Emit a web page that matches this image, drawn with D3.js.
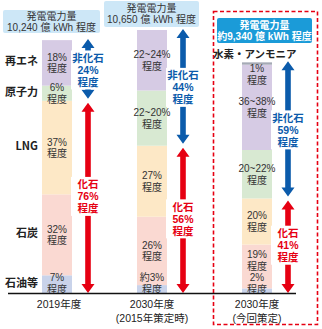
<!DOCTYPE html>
<html lang="ja"><head><meta charset="utf-8">
<script src="https://cdn.jsdelivr.net/npm/d3@7"></script>
<style>
html,body{margin:0;padding:0;background:#fff;}
svg{display:block;font-family:"Noto Sans CJK JP","Noto Sans",sans-serif;}
.tight{font-family:"Liberation Sans","Noto Sans CJK JP",sans-serif;}
</style></head>
<body>
<svg id="chart" width="322" height="329"></svg>
<script>
// ---- data ----
const years = ["2019年度", "2030年度(2015年策定時)", "2030年度(今回策定)"];
const yearLine1 = ["2019年度", "2030年度", "2030年度"];
const yearLine2 = ["", "(2015年策定時)", "(今回策定)"];
const totals = [10240, 10650, 9340];
const totalTitle = ["発電電力量", "発電電力量", "発電電力量"];
const totalText = ["10,240 億 kWh 程度", "10,650 億 kWh 程度", "約9,340 億 kWh 程度"];
// sources, bottom to top
const sources = ["石油等", "石炭", "LNG", "原子力", "再エネ", "水素・アンモニア"];
const shares2019 = [7, 32, 37, 6, 18, 0];
const shares2030old = [3, 26, 27, 21, 23, 0];
const shares2030new = [2, 19, 20, 21, 37, 1];
const labels2019 = ["7%", "32%", "37%", "6%", "18%", ""];
const labels2030old = ["約3%", "26%", "27%", "22~20%", "22~24%", ""];
const labels2030new = ["2%", "19%", "20%", "20~22%", "36~38%", "1%"];
const fossilCount = 3; // first three sources are fossil
const nonFossilPct = ["24%", "44%", "59%"];
const fossilPct = ["76%", "56%", "41%"];

const colors = ["#c9d3ea", "#fad9d2", "#fde8c6", "#d8e9d2", "#d6cbe4", "#a5aab5"];

const shares = [shares2019, shares2030old, shares2030new];
const segLabels = [labels2019, labels2030old, labels2030new];

// ---- layout ----
const svg = d3.select("#chart");
const base = 293;
const y = d3.scaleLinear().domain([0, 10650]).range([base, 30]);
const x = d3.scaleOrdinal().domain(years).range([57, 152, 257]);
const barW = 30;
const blue = "#0b5bab", red = "#e60012";

// red dashed frame
svg.append("rect").attr("x", 213.5).attr("y", 11.5).attr("width", 104).attr("height", 313)
  .attr("fill", "none").attr("stroke", red).attr("stroke-width", 1.6).attr("stroke-dasharray", "4,2.5");

// build stacked data
const bars = years.map((yr, i) => {
  let acc = 0;
  const segs = shares[i].map((v, j) => {
    const val = totals[i] * v / 100;
    const s = {yr, j, v, y0: acc, y1: acc + val, label: segLabels[i][j]};
    acc += val;
    return s;
  });
  return {yr, i, segs};
});

// bars
bars.forEach(b => {
  const cx = x(b.yr);
  svg.append("g").selectAll("rect").data(b.segs.filter(s => s.v > 0)).join("rect")
    .attr("x", cx - barW / 2).attr("width", barW)
    .attr("y", s => y(s.y1)).attr("height", s => y(s.y0) - y(s.y1))
    .attr("fill", s => colors[s.j]);

  // segment labels with simple collision handling (bottom-up)
  const barTop = y(b.segs[b.segs.length - 1].y1);
  let prev = Infinity;
  b.segs.forEach(s => {
    if (s.v <= 0) return;
    const top = y(s.y1), bot = y(s.y0);
    let c = (top + bot) / 2;
    c = Math.max(c, barTop + 12);
    c = Math.min(c, base - 10, prev - 23);
    prev = c;
    const t = svg.append("text").attr("class", "tight").attr("text-anchor", "middle").attr("fill", "#333")
      .attr("font-size", 10).attr("x", cx);
    t.append("tspan").attr("x", cx).attr("y", c - 2).text(s.label);
    t.append("tspan").attr("x", cx).attr("y", c + 9.5).text("程度");
  });
});

// category labels (from 2019 bar)
bars[0].segs.forEach(s => {
  if (s.v <= 0) return;
  svg.append("text").attr("x", 38).attr("y", (y(s.y0) + y(s.y1)) / 2 + 2.5)
    .attr("text-anchor", "end").attr("font-size", 11).attr("font-weight", 700)
    .attr("fill", "#222").text(sources[s.j]);
});
// 水素・アンモニア label
{
  const b = bars[2];
  const top = y(b.segs[b.segs.length - 1].y1);
  svg.append("text").attr("x", 213).attr("y", top - 4)
    .attr("font-size", 10.5).attr("font-weight", 700).attr("fill", "#222")
    .text(sources[5]);
}

// arrows
function arrow(xc, yTop, yBot, color) {
  const hw = 6.5, hh = 9, sw = 2.8;
  const p = d3.path();
  p.moveTo(xc, yTop);
  p.lineTo(xc + hw, yTop + hh);
  p.lineTo(xc + sw, yTop + hh);
  p.lineTo(xc + sw, yBot - hh);
  p.lineTo(xc + hw, yBot - hh);
  p.lineTo(xc, yBot);
  p.lineTo(xc - hw, yBot - hh);
  p.lineTo(xc - sw, yBot - hh);
  p.lineTo(xc - sw, yTop + hh);
  p.lineTo(xc - hw, yTop + hh);
  p.closePath();
  svg.append("path").attr("d", p.toString()).attr("fill", color);
}
function arrowText(xc, c, lines, color) {
  const lh = 12;
  const h = lines.length * lh;
  svg.append("rect").attr("x", xc - 17).attr("y", c - h / 2 - 2).attr("width", 34).attr("height", h + 3)
    .attr("fill", "#fff");
  const t = svg.append("text").attr("class", "tight").attr("text-anchor", "middle").attr("fill", color)
    .attr("font-size", 10.5).attr("font-weight", 700);
  lines.forEach((l, k) => {
    t.append("tspan").attr("x", xc).attr("y", c - h / 2 + 9.5 + k * lh).text(l);
  });
}
bars.forEach(b => {
  const ax = x(b.yr) + 31;
  const top = y(b.segs[b.segs.length - 1].y1);
  const boundary = y(b.segs[fossilCount - 1].y1);
  arrow(ax, top - 1, boundary - 2, blue);
  arrow(ax, boundary + 2, base, red);
  arrowText(ax, (top + boundary) / 2, ["非化石", nonFossilPct[b.i], "程度"], blue);
  arrowText(ax, (boundary + base) / 2, ["化石", fossilPct[b.i], "程度"], red);
});

// baseline
svg.append("line").attr("x1", 8).attr("x2", 296).attr("y1", base + 0.5).attr("y2", base + 0.5)
  .attr("stroke", "#111").attr("stroke-width", 1.4);

// x labels
years.forEach((yr, i) => {
  const cx = x(yr) + (i === 0 ? 2 : 0);
  svg.append("text").attr("class", "tight").attr("x", cx).attr("y", 308).attr("text-anchor", "middle")
    .attr("font-size", 10.5).attr("fill", "#222").text(yearLine1[i]);
  if (yearLine2[i]) svg.append("text").attr("class", "tight").attr("x", cx).attr("y", 322).attr("text-anchor", "middle")
    .attr("font-size", 10.5).attr("fill", "#222").text(yearLine2[i]);
});

// total boxes
const boxes = [
  {x: 3, y: 10, w: 97, h: 23, fill: "#cde7f7", color: "#333", bold: 400},
  {x: 104, y: 1, w: 95, h: 26, fill: "#cde7f7", color: "#333", bold: 400},
  {x: 217, y: 18, w: 95, h: 25, fill: "#1b9bd8", color: "#fff", bold: 700}
];
boxes.forEach((bx, i) => {
  svg.append("rect").attr("x", bx.x).attr("y", bx.y).attr("width", bx.w).attr("height", bx.h)
    .attr("rx", 2).attr("fill", bx.fill);
  const cx = bx.x + bx.w / 2;
  svg.append("text").attr("class", "tight").attr("x", cx).attr("y", bx.y + bx.h / 2 - 2).attr("text-anchor", "middle")
    .attr("font-size", 10).attr("font-weight", bx.bold).attr("fill", bx.color).text(totalTitle[i]);
  svg.append("text").attr("class", "tight").attr("x", cx).attr("y", bx.y + bx.h / 2 + 9).attr("text-anchor", "middle")
    .attr("font-size", 10).attr("font-weight", bx.bold).attr("fill", bx.color).text(totalText[i]);
});
</script>
</body></html>
